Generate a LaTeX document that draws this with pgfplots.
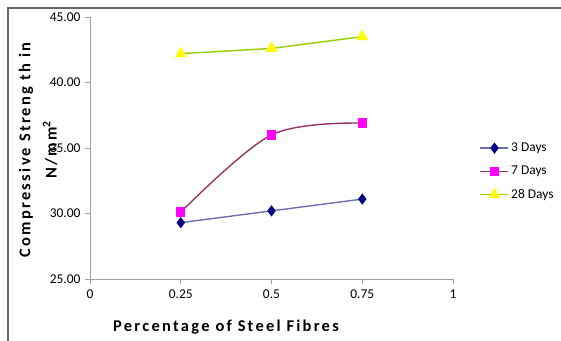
\documentclass[border=0pt]{standalone}
\usepackage{fontspec}
\setmainfont{Carlito}
\newfontfamily\labelfont[LetterSpace=14]{Carlito}
\usepackage{pgfplots}
\pgfplotsset{compat=1.18}

\definecolor{threeline}{HTML}{6F6FAE}
\definecolor{threemark}{HTML}{000080}
\definecolor{sevenline}{HTML}{993366}
\definecolor{sevenmark}{HTML}{FF00FF}
\definecolor{tweightline}{HTML}{99CC00}
\definecolor{tweightmark}{HTML}{FFFF00}
\definecolor{axisgray}{HTML}{A0A0A0}

\begin{document}
\begin{tikzpicture}[x=1bp,y=1bp]
\clip (0,0) rectangle (561,340);
\fill[white] (0,0) rectangle (561,340);
% outer chart frame
\draw[gray!80!black, line width=1.2bp] (8,-5) -- (8,332) -- (570,332);
\begin{axis}[
  at={(90bp,61bp)}, anchor=origin,
  scale only axis, width=363bp, height=262bp,
  xmin=0, xmax=1, ymin=25, ymax=45,
  xtick={0,0.25,0.5,0.75,1},
  xticklabels={0,0.25,0.5,0.75,1},
  ytick={25,30,35,40,45},
  y tick label style={/pgf/number format/fixed, /pgf/number format/fixed zerofill,
    /pgf/number format/precision=2, xshift=-1bp},
  /pgf/number format/assume math mode=true,
  axis x line*=bottom, axis y line*=left,
  axis line style={axisgray, line width=0.8bp, -},
  tick style={axisgray, line width=0.8bp},
  tick align=outside, major tick length=5bp,
  ticklabel style={font=\fontsize{13.5}{15}\selectfont, text=black},
  x tick label style={yshift=-2bp},
  legend style={at={(1.065,0.535)}, anchor=north west, draw=none, fill=none,
    font=\fontsize{13.5}{15}\selectfont, row sep=9bp,
    /tikz/every even column/.append style={column sep=4bp}},
  legend cell align=left,
  legend image code/.code={
    \draw[mark repeat=2,mark phase=2,#1] plot coordinates {(0bp,0bp) (14bp,0bp) (28bp,0bp)};},
  clip=false,
]
\addplot[threeline, line width=1.4bp, mark=diamond*, mark size=4.5bp,
  mark options={fill=threemark, draw=threemark, solid}]
  coordinates {(0.25,29.3) (0.5,30.2) (0.75,31.1)};
\addlegendentry{3 Days}
\addplot[sevenline, line width=1.4bp, smooth, tension=0.55, mark=square*, mark size=4bp,
  mark options={fill=sevenmark, draw=sevenmark, solid}]
  coordinates {(0.25,30.1) (0.5,36.0) (0.75,36.9)};
\addlegendentry{7 Days}
\addplot[tweightline, line width=1.4bp, mark=triangle*, mark size=5.5bp,
  mark options={fill=tweightmark, draw=tweightmark, solid}]
  coordinates {(0.25,42.2) (0.5,42.6) (0.75,43.5)};
\addlegendentry{28 Days}
\end{axis}
% axis titles
\node[font=\labelfont\bfseries\fontsize{16.5}{18}\selectfont, anchor=center] at (226,13) {Percentage of S\kern2bp teel F\kern2bp ibres};
\node[font=\labelfont\bfseries\fontsize{16.5}{18}\selectfont, rotate=90, anchor=center] at (26,190) {Compressive S\kern2bp treng th in};
\node[font=\labelfont\bfseries\fontsize{16.5}{18}\selectfont, rotate=90, anchor=center] at (50,190) {N/mm\textsuperscript{2}};
\end{tikzpicture}
\end{document}
